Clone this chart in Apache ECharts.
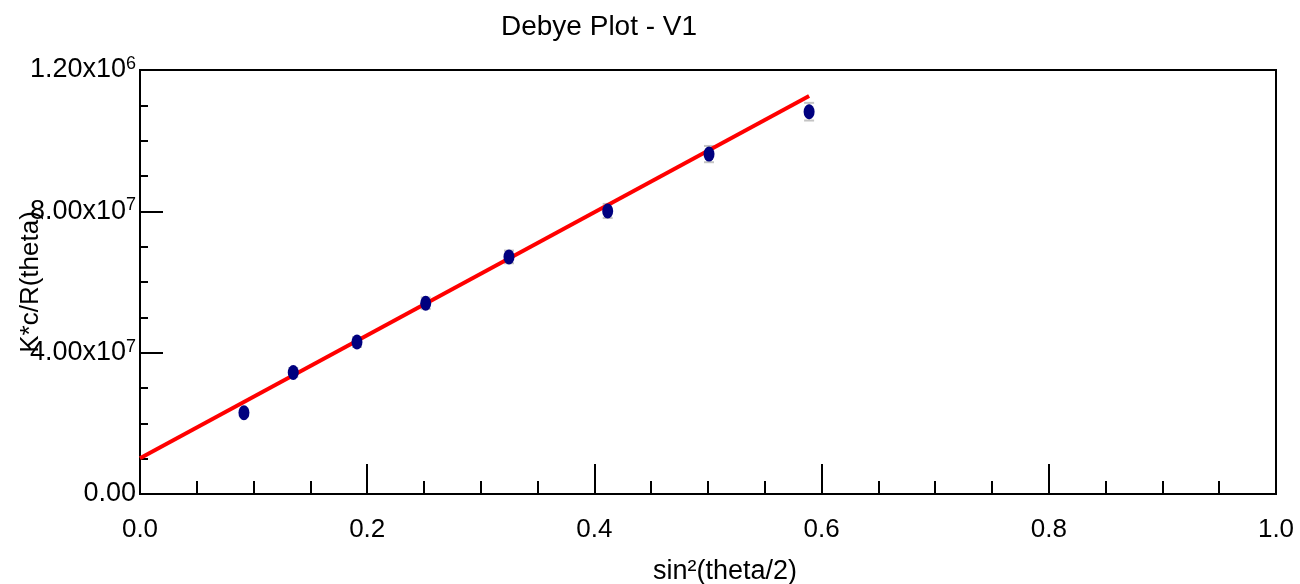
<!DOCTYPE html>
<html>
<head>
<meta charset="utf-8">
<title>Debye Plot - V1</title>
<script src="https://cdn.jsdelivr.net/npm/echarts@6/dist/echarts.min.js"></script>
<style>
  html, body { margin: 0; padding: 0; background: #fff; }
  #chart { width: 1300px; height: 584px; }
</style>
</head>
<body>
<div id="chart"></div>
<script>
// Measured points: sin^2(theta/2) against K*c/R(theta)
const sinSq = [0.0915, 0.1349, 0.191, 0.2515, 0.3248, 0.4117, 0.5009, 0.589];
const kcR = [2.30e7, 3.44e7, 4.30e7, 5.40e7, 6.71e7, 8.01e7, 9.62e7, 1.082e8];
const kcRErr = [1.0e6, 1.2e6, 1.4e6, 1.6e6, 1.8e6, 2.0e6, 2.3e6, 2.5e6];

// Linear fit endpoints
const fitX = [0.0, 0.589];
const fitY = [1.01e7, 1.1264e8];

// Y tick labels (mantissa and exponent)
const yTickValues = [0, 4e7, 8e7, 1.2e8];
const yTickBase = ['0.00', '4.00x10', '8.00x10', '1.20x10'];
const yTickExp = ['', '7', '7', '6'];

const FONT = 'Liberation Sans, Arial, Helvetica, sans-serif';

const chart = echarts.init(document.getElementById('chart'));

const option = {
  animation: false,
  backgroundColor: '#ffffff',
  title: {
    text: 'Debye Plot - V1',
    left: 496,
    top: 8,
    textStyle: { fontFamily: FONT, fontSize: 28, fontWeight: 'normal', color: '#000' }
  },
  grid: {
    left: 140, right: 24, top: 70, bottom: 90,
    outerBoundsMode: 'none',
    containLabel: false,
    show: true, borderColor: '#000', borderWidth: 2, backgroundColor: 'transparent'
  },
  xAxis: {
    type: 'value',
    min: 0, max: 1, interval: 0.2,
    name: 'sin\u00b2(theta/2)',
    nameLocation: 'middle',
    nameGap: 64,
    nameTextStyle: { fontFamily: FONT, fontSize: 27, color: '#000', padding: [0, 0, 0, 34] },
    axisLine: { show: true, onZero: false, lineStyle: { color: '#000', width: 2 } },
    axisTick: { show: true, inside: true, length: 30, lineStyle: { color: '#000', width: 2 } },
    minorTick: { show: true, splitNumber: 4, length: 13, lineStyle: { color: '#000', width: 2 } },
    splitLine: { show: false },
    axisLabel: {
      margin: 23,
      fontFamily: FONT, fontSize: 26, color: '#000',
      formatter: v => v.toFixed(1)
    }
  },
  yAxis: {
    type: 'value',
    min: 0, max: 1.2e8, interval: 4e7,
    name: 'K*c/R(theta)',
    nameLocation: 'middle',
    nameMoveOverlap: false,
    nameGap: 96,
    nameTextStyle: { fontFamily: FONT, fontSize: 26, color: '#000' },
    axisLine: { show: true, onZero: false, lineStyle: { color: '#000', width: 2 } },
    axisTick: { show: true, inside: true, length: 23, lineStyle: { color: '#000', width: 2 } },
    minorTick: { show: true, splitNumber: 4, length: 8, lineStyle: { color: '#000', width: 2 } },
    splitLine: { show: false },
    axisLabel: {
      margin: 4,
      fontFamily: FONT, color: '#000',
      formatter: v => {
        const i = yTickValues.findIndex(t => Math.abs(t - v) < 1);
        if (i < 0) return '';
        return yTickExp[i]
          ? '{b|' + yTickBase[i] + '}{s|' + yTickExp[i] + '}'
          : '{b|' + yTickBase[i] + '}';
      },
      rich: {
        b: { fontFamily: FONT, fontSize: 27, color: '#000', lineHeight: 30 },
        s: { fontFamily: FONT, fontSize: 18, color: '#000', verticalAlign: 'top', lineHeight: 16, padding: [0, 0, 16, 0] }
      }
    }
  },
  series: [
    {
      name: 'error',
      type: 'custom',
      z: 1,
      data: sinSq.map((x, i) => [x, kcR[i] - kcRErr[i], kcR[i] + kcRErr[i]]),
      renderItem: (params, api) => {
        const lo = api.coord([api.value(0), api.value(1)]);
        const hi = api.coord([api.value(0), api.value(2)]);
        const hw = 5;
        const style = { stroke: '#c4c4c4', lineWidth: 2 };
        return {
          type: 'group',
          children: [
            { type: 'line', shape: { x1: lo[0], y1: lo[1], x2: hi[0], y2: hi[1] }, style },
            { type: 'line', shape: { x1: lo[0] - hw, y1: lo[1], x2: lo[0] + hw, y2: lo[1] }, style },
            { type: 'line', shape: { x1: hi[0] - hw, y1: hi[1], x2: hi[0] + hw, y2: hi[1] }, style }
          ]
        };
      }
    },
    {
      name: 'fit',
      type: 'line',
      z: 2,
      data: fitX.map((x, i) => [x, fitY[i]]),
      showSymbol: false,
      symbol: 'none',
      lineStyle: { color: '#ff0000', width: 4 }
    },
    {
      name: 'data',
      type: 'scatter',
      z: 3,
      data: sinSq.map((x, i) => [x, kcR[i]]),
      symbol: 'circle',
      symbolSize: [11, 15],
      itemStyle: { color: '#00007f', opacity: 1 }
    }
  ]
};

chart.setOption(option);
</script>
</body>
</html>
